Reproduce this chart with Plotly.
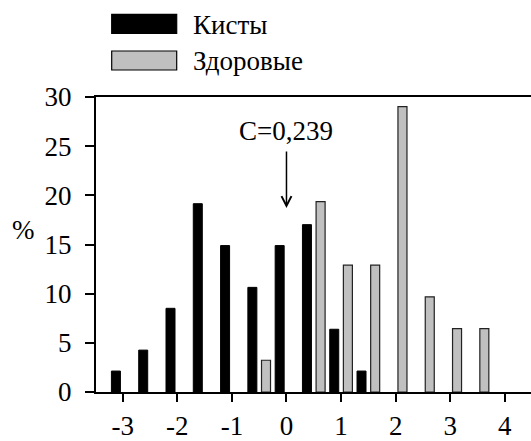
import plotly.graph_objects as go

bins = [-3.0, -2.5, -2.0, -1.5, -1.0, -0.5, 0.0, 0.5, 1.0, 1.5, 2.0, 2.5, 3.0, 3.5]
cyst_name = "Кисты"
healthy_name = "Здоровые"
cyst_vals = [2.13, 4.26, 8.51, 19.15, 14.89, 10.64, 14.89, 17.02, 6.38, 2.13, None, None, None, None]
healthy_vals = [None, None, None, None, None, 3.23, None, 19.35, 12.90, 12.90, 29.03, 9.68, 6.45, 6.45]
x_ticks = [-3, -2, -1, 0, 1, 2, 3, 4]
y_ticks = [0, 5, 10, 15, 20, 25, 30]
c_label = "C=0,239"
c_x = 0

FONT = "Times New Roman"
FS = 27
fig = go.Figure()
fig.add_trace(go.Bar(x=bins, y=cyst_vals, name=cyst_name,
                     marker=dict(color="black", line=dict(color="black", width=1))))
fig.add_trace(go.Bar(x=bins, y=healthy_vals, name=healthy_name,
                     marker=dict(color="#c0c0c0", line=dict(color="#222222", width=1.2))))

fig.update_layout(
    template="none",
    width=531, height=441,
    margin=dict(l=96, r=0, t=97, b=49),
    paper_bgcolor="white", plot_bgcolor="white",
    barmode="group", bargap=0.0, bargroupgap=0.34,
    showlegend=False,
    font=dict(family=FONT, size=FS, color="black"),
    xaxis=dict(range=[-3.49, 4.48], tickvals=x_ticks, ticktext=[str(v) for v in x_ticks],
               showgrid=False, zeroline=False, showline=True, linecolor="black", linewidth=2,
               mirror=True, ticks="outside", ticklen=8, tickwidth=2, tickcolor="black",
               ticklabelstandoff=1, automargin=False),
    yaxis=dict(range=[0, 30], tickvals=y_ticks, showgrid=False, zeroline=False,
               showline=True, linecolor="black", linewidth=2, ticks="outside",
               ticklen=9, tickwidth=2, tickcolor="black", ticklabelstandoff=8,
               automargin=False),
)

# y axis title "%"
fig.add_annotation(text="%", xref="paper", yref="paper", x=(23 - 96) / 435, y=(392 - 230) / 295,
                   xanchor="center", yanchor="middle", showarrow=False)

# C label and arrow
fig.add_annotation(x=c_x, y=26.5, xref="x", yref="y", text=c_label, showarrow=False,
                   xanchor="center", yanchor="middle")
fig.add_annotation(x=c_x, y=18.7, xref="x", yref="y", text="", showarrow=True,
                   arrowhead=5, arrowsize=1.3, arrowwidth=1.5, arrowcolor="black",
                   ax=c_x, ay=24.6, axref="x", ayref="y", standoff=0)

# legend drawn manually
def px2paper(px, py):
    return (px - 96) / 435, (392 - py) / 295

for (name, color, top, bottom, tyc) in [(cyst_name, "black", 14.3, 33.3, 25),
                                        (healthy_name, "#c0c0c0", 51, 70, 61)]:
    x0, y0 = px2paper(111.7, bottom)
    x1, y1 = px2paper(176.7, top)
    fig.add_shape(type="rect", xref="paper", yref="paper", x0=x0, y0=y0, x1=x1, y1=y1,
                  fillcolor=color, line=dict(color="black", width=1.2))
    tx, ty = px2paper(191, tyc)
    fig.add_annotation(text=name, xref="paper", yref="paper", x=tx, y=ty, xanchor="left",
                       yanchor="middle", showarrow=False)

fig.write_html("out.html")
